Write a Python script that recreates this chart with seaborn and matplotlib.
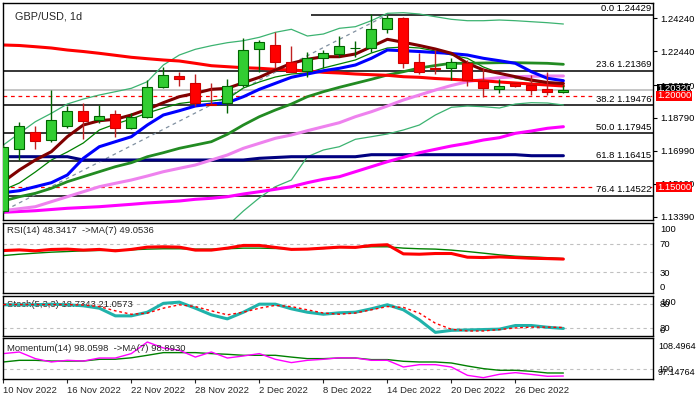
import numpy as np
import pandas as pd
import matplotlib
matplotlib.use("Agg")
import matplotlib.pyplot as plt
import matplotlib.transforms as mtransforms
import seaborn as sns

# ---------------- data ----------------
dates = pd.bdate_range("2022-11-10", "2022-12-29")
open_ = [1.1370, 1.1709, 1.1802, 1.1758, 1.1835, 1.1917, 1.1868, 1.1900, 1.1824, 1.1884,
         1.2048, 1.2108, 1.2070, 1.1958, 1.1961, 1.2059, 1.2256, 1.2278, 1.2185, 1.2136,
         1.2207, 1.2229, 1.2260, 1.2262, 1.2366, 1.2426, 1.2185, 1.2152, 1.2152, 1.2180,
         1.2081, 1.2037, 1.2070, 1.2059, 1.2037, 1.2021]
high = [1.1731, 1.1857, 1.1835, 1.2032, 1.1944, 1.1961, 1.1950, 1.1922, 1.1906, 1.2086,
        1.2158, 1.2130, 1.2119, 1.2070, 1.2092, 1.2316, 1.2305, 1.2349, 1.2272, 1.2240,
        1.2251, 1.2327, 1.2300, 1.2447, 1.2443, 1.2431, 1.2234, 1.2251, 1.2207, 1.2196,
        1.2152, 1.2092, 1.2075, 1.2114, 1.2130, 1.2059]
low = [1.1360, 1.1649, 1.1709, 1.1747, 1.1824, 1.1764, 1.1851, 1.1775, 1.1818, 1.1878,
       1.2045, 1.2054, 1.1944, 1.1948, 1.1906, 1.2048, 1.2130, 1.2152, 1.2128, 1.2103,
       1.2152, 1.2212, 1.2212, 1.2240, 1.2344, 1.2152, 1.2119, 1.2119, 1.2087, 1.2054,
       1.1994, 1.2015, 1.2048, 1.2005, 1.2005, 1.2015]
close = [1.1720, 1.1835, 1.1753, 1.1868, 1.1917, 1.1862, 1.1890, 1.1824, 1.1884, 1.2048,
         1.2114, 1.2092, 1.1961, 1.1950, 1.2054, 1.2251, 1.2294, 1.2185, 1.2130, 1.2207,
         1.2234, 1.2272, 1.2262, 1.2366, 1.2426, 1.2180, 1.2130, 1.2148, 1.2185, 1.2087,
         1.2043, 1.2054, 1.2054, 1.2032, 1.2021, 1.2032]

ma_red = [1.22780, 1.22753, 1.22687, 1.22616, 1.22506, 1.22424, 1.22326, 1.22217, 1.22107, 1.22031,
          1.21960, 1.21905, 1.21779, 1.21648, 1.21593, 1.21539, 1.21506, 1.21451, 1.21413, 1.21358,
          1.21287, 1.21249, 1.21194, 1.21156, 1.21123, 1.21046, 1.21014, 1.20948, 1.20904, 1.20855,
          1.20822, 1.20757, 1.20702, 1.20647, 1.20592, 1.20538]
ma_maroon = [1.15304, 1.15944, 1.16491, 1.16945, 1.17765, 1.18405, 1.18640, 1.18717, 1.18952, 1.19264,
             1.19625, 1.19953, 1.20139, 1.20357, 1.20412, 1.20718, 1.21014, 1.21413, 1.21779, 1.21998,
             1.22140, 1.22140, 1.22288, 1.22687, 1.23092, 1.22928, 1.22753, 1.22561, 1.22326, 1.21779,
             1.21413, 1.21232, 1.21046, 1.20866, 1.20729, 1.20675]
ma_blue = [1.14703, 1.14812, 1.15031, 1.15250, 1.15671, 1.16584, 1.17218, 1.17492, 1.17765, 1.18405,
           1.18952, 1.19187, 1.19444, 1.19553, 1.19625, 1.19953, 1.20357, 1.20685, 1.21014, 1.21194,
           1.21374, 1.21506, 1.21686, 1.22053, 1.22506, 1.22468, 1.22424, 1.22370, 1.22315, 1.22233,
           1.22053, 1.21921, 1.21779, 1.21320, 1.20959, 1.20828]
ma_thin_green = [1.14850, 1.15233, 1.15835, 1.16491, 1.16929, 1.17421, 1.18132, 1.18460, 1.18733, 1.19061,
                 1.19335, 1.19581, 1.19690, 1.19718, 1.19827, 1.20428, 1.20757, 1.21030, 1.21194, 1.21249,
                 1.21522, 1.21741, 1.21960, 1.22342, 1.22616, 1.22671, 1.22616, 1.22452, 1.22233, 1.22053,
                 1.21577, 1.21249, 1.20975, 1.20811, 1.20675, 1.20592]
bb_mid = [1.14249, 1.14484, 1.14670, 1.14943, 1.15304, 1.15578, 1.15851, 1.16125, 1.16343, 1.16671,
          1.16890, 1.17131, 1.17311, 1.17492, 1.17896, 1.18405, 1.18859, 1.19225, 1.19553, 1.19953,
          1.20226, 1.20467, 1.20685, 1.20904, 1.21139, 1.21320, 1.21522, 1.21659, 1.21779, 1.21779,
          1.21796, 1.21812, 1.21812, 1.21796, 1.21779, 1.21724]
bb_upper = [1.17311, 1.17951, 1.18585, 1.19045, 1.19553, 1.19827, 1.20046, 1.20226, 1.20412, 1.20773,
            1.21686, 1.22233, 1.22545, 1.22742, 1.22906, 1.23015, 1.23201, 1.23474, 1.23639, 1.23272,
            1.23381, 1.23693, 1.23781, 1.24109, 1.24513, 1.24546, 1.24475, 1.24327, 1.24185, 1.24109,
            1.24109, 1.24147, 1.24109, 1.24054, 1.24000, 1.23928]
bb_lower = [1.11187, 1.11017, 1.10755, 1.10841, 1.11055, 1.11329, 1.11656, 1.12024, 1.12274, 1.12569,
            1.12094, 1.12029, 1.12077, 1.12242, 1.12886, 1.13700, 1.14420, 1.15031, 1.15397, 1.16671,
            1.17038, 1.17218, 1.17623, 1.17765, 1.17913, 1.18132, 1.18405, 1.18952, 1.19373, 1.19444,
            1.19406, 1.19335, 1.19553, 1.19625, 1.19608, 1.19499]
ma_violet = [1.13718, 1.13828, 1.13937, 1.14211, 1.14484, 1.14757, 1.15031, 1.15217, 1.15397, 1.15616,
             1.15851, 1.16037, 1.16218, 1.16491, 1.16764, 1.17131, 1.17404, 1.17678, 1.17858, 1.18093,
             1.18312, 1.18531, 1.18859, 1.19132, 1.19444, 1.19772, 1.20046, 1.20319, 1.20565, 1.20773,
             1.20904, 1.20992, 1.21046, 1.21068, 1.21085, 1.21085]
ma_magenta = [1.13631, 1.13675, 1.13718, 1.13784, 1.13850, 1.13893, 1.13937, 1.14003, 1.14068, 1.14140,
              1.14194, 1.14249, 1.14342, 1.14397, 1.14484, 1.14632, 1.14757, 1.14889, 1.15031, 1.15250,
              1.15436, 1.15578, 1.15851, 1.16125, 1.16398, 1.16639, 1.16890, 1.17076, 1.17257, 1.17404,
              1.17585, 1.17711, 1.17951, 1.18077, 1.18225, 1.18312]
ma_navy = [1.16671, 1.16671, 1.16671, 1.16671, 1.16671, 1.16491, 1.16491, 1.16491, 1.16491, 1.16491,
           1.16491, 1.16491, 1.16491, 1.16491, 1.16491, 1.16491, 1.16584, 1.16628, 1.16671, 1.16671,
           1.16671, 1.16671, 1.16671, 1.16781, 1.16781, 1.16781, 1.16781, 1.16781, 1.16781, 1.16781,
           1.16781, 1.16781, 1.16781, 1.16726, 1.16726, 1.16726]

rsi = [60.4, 61.3, 60.0, 61.9, 62.4, 61.0, 62.0, 60.0, 62.0, 65.2, 65.7, 65.2, 61.0, 61.0, 63.8,
       67.6, 67.6, 64.8, 62.0, 62.4, 63.8, 65.2, 64.8, 67.6, 68.6, 55.7, 55.2, 56.2, 56.2, 51.0,
       50.5, 51.4, 50.5, 49.5, 49.0, 48.34]
rsi_ma = [53.3, 55.2, 56.7, 58.1, 59.0, 60.0, 60.5, 61.0, 61.4, 62.4, 62.9, 62.9, 62.4, 62.4, 62.9,
          63.8, 63.8, 63.3, 62.9, 62.9, 63.3, 64.8, 64.8, 65.7, 65.7, 63.8, 62.9, 62.4, 61.0, 59.0,
          56.7, 54.3, 52.4, 51.4, 50.3, 49.05]
stoch_k = [77.5, 77.5, 77.5, 79.0, 77.5, 75.0, 69.0, 50.0, 50.0, 59.0, 81.0, 84.0, 69.0, 52.5, 42.5,
           59.0, 79.0, 79.0, 67.5, 59.0, 54.0, 57.5, 59.0, 67.5, 77.5, 65.0, 40.0, 9.0, 14.0, 15.0,
           16.0, 17.0, 26.0, 26.0, 21.7, 18.73]
stoch_d = [78.0, 78.0, 78.0, 78.0, 78.0, 77.0, 73.0, 62.5, 54.0, 56.7, 69.0, 77.5, 73.0, 62.5, 52.5,
           59.0, 69.0, 76.0, 73.0, 65.0, 57.0, 54.0, 57.0, 65.0, 73.0, 71.0, 56.7, 31.7, 16.7, 12.5,
           12.5, 16.0, 20.0, 22.0, 22.0, 21.06]
momentum = [104.26, 104.70, 102.87, 101.94, 102.41, 102.20, 103.04, 103.04, 104.26, 107.47,
            105.82, 105.18, 103.30, 104.70, 103.04, 103.60, 104.26, 102.68, 101.77, 102.40,
            102.68, 103.10, 103.04, 102.40, 102.40, 100.55, 101.20, 101.20, 100.55, 98.25,
            97.60, 98.53, 98.99, 98.50, 97.98, 98.06]
momentum_ma = [101.94, 102.40, 102.40, 102.20, 102.20, 102.20, 102.68, 102.70, 103.10, 103.79,
               104.53, 104.53, 104.53, 104.26, 104.07, 103.79, 103.79, 103.79, 103.30, 102.87,
               102.87, 103.04, 103.04, 102.60, 102.60, 102.13, 101.94, 101.94, 101.66, 100.83,
               100.10, 99.64, 99.64, 99.36, 98.90, 98.89]

fib_levels = ["0.0", "23.6", "38.2", "50.0", "61.8", "76.4"]
fib_prices = [1.24429, 1.21369, 1.19476, 1.17945, 1.16415, 1.14522]
fib_top_start = 19.2
trend_x = [-5, 24]
trend_y = [1.11463, 1.24429]
alert_levels = [1.20000, 1.15000]
bid_price = 1.20320
price_ticks = [1.24240, 1.22440, 1.20590, 1.18790, 1.16990, 1.15190, 1.13390]

title = "GBP/USD, 1d"
rsi_text = "RSI(14) 48.3417  ->MA(7) 49.0536"
stoch_text = "Stoch(5,3,3) 18.7343 21.0573"
mom_text = "Momentum(14) 98.0598  ->MA(7) 98.8930"

# ---------------- style ----------------
sns.set_style("white")
plt.rcParams["font.family"] = ["Liberation Sans", "DejaVu Sans"]
FS = 6.8

n = len(close)
idx = np.arange(n)

W, H = 698, 397
fig = plt.figure(figsize=(W / 100, H / 100), dpi=100)


def rect(x0, y0, x1, y1):
    return [x0 / W, 1 - y1 / H, (x1 - x0) / W, (y1 - y0) / H]


ax = fig.add_axes(rect(3, 3, 653, 220))
ax_rsi = fig.add_axes(rect(3, 222.5, 653, 293.3), sharex=ax)
ax_sto = fig.add_axes(rect(3, 295.7, 653, 336), sharex=ax)
ax_mom = fig.add_axes(rect(3, 338.3, 653, 379.3), sharex=ax)


def line(a, y, color, lw, ls="-", z=2, x=None):
    sns.lineplot(x=idx if x is None else x, y=y, ax=a, color=color, linewidth=lw,
                 linestyle=ls, legend=False, zorder=z, estimator=None, sort=False)


# ---------------- main panel ----------------
for p in fib_prices[1:]:
    ax.axhline(p, color="black", lw=1.1, zorder=1)
ax.hlines(fib_prices[0], fib_top_start, 41, color="black", lw=1.1, zorder=1)
for p in alert_levels:
    ax.axhline(p, color="#FF0000", lw=0.9, ls=(0, (3, 3)), zorder=1)
ax.axhline(bid_price, color="#C0C0C0", lw=1.3, zorder=1)

line(ax, trend_y, "#8090A0", 0.9, ls=(0, (3, 3)), x=trend_x)
line(ax, bb_upper, "#3CB371", 0.9)
line(ax, bb_lower, "#3CB371", 0.9)
line(ax, ma_thin_green, "#008000", 0.9)
line(ax, ma_navy, "#000080", 2.2)
line(ax, ma_magenta, "#FF00FF", 2.2)
line(ax, ma_violet, "#EE82EE", 2.2)
line(ax, bb_mid, "#228B22", 2.0)
line(ax, ma_red, "#FF0000", 2.2)
line(ax, ma_blue, "#0000FF", 2.2)
line(ax, ma_maroon, "#800000", 2.2)

o = np.array(open_); c = np.array(close)
up = c >= o
body_bottom = np.minimum(o, c)
body_h = np.abs(c - o)
wick_col = np.where(up, "#006400", "#C02020")
fill_col = np.where(up, "#32CD32", "#FF0000")
edge_col = np.where(up, "#006400", "#D00000")
ax.vlines(idx, low, high, colors=wick_col, lw=1.0, zorder=5)
ax.bar(idx, body_h, bottom=body_bottom, width=0.62, color=fill_col,
       edgecolor=edge_col, linewidth=0.8, zorder=6)

ax.set_xlim(-0.02, 40.6)
ax.set_ylim(1.1321, 1.25077)

trans = mtransforms.blended_transform_factory(ax.transAxes, ax.transData)
for lvl, p in zip(fib_levels, fib_prices):
    ax.text(0.997, p + 0.0009, f"{lvl} {p:.5f}", transform=trans, ha="right", va="bottom",
            fontsize=FS, color="black", zorder=8,
            bbox=dict(facecolor="white", edgecolor="none", pad=0.3))

ax.text(0.0185, 0.94, title, transform=ax.transAxes, fontsize=7.8, va="center", ha="left")

ax.yaxis.tick_right()
ax.set_yticks(price_ticks)
ax.set_yticklabels([f"{t:.5f}" for t in price_ticks])
ax.tick_params(axis="y", length=3, width=0.8, pad=2.5, labelsize=FS, colors="black")
ax.text(1.0062, bid_price + 0.0006, f"{bid_price:.5f}", transform=trans, ha="left", va="center",
        fontsize=FS, color="white", clip_on=False, zorder=9,
        bbox=dict(facecolor="black", edgecolor="none", pad=0.0))
for p in alert_levels:
    ax.text(1.0062, p, f"{p:.5f}", transform=trans, ha="left", va="center",
            fontsize=FS, color="white", clip_on=False, zorder=10,
            bbox=dict(facecolor="#FF0000", edgecolor="none", pad=0.4))

# ---------------- RSI ----------------
ax_rsi.set_ylim(0, 100)
for lv in (70, 30):
    ax_rsi.axhline(lv, color="#C0C0C0", lw=0.8, ls=(0, (3, 3)), zorder=1)
line(ax_rsi, rsi_ma, "#008000", 1.0)
line(ax_rsi, rsi, "#FF0000", 2.2)
ax_rsi.text(0.006, 0.88, rsi_text, transform=ax_rsi.transAxes, fontsize=FS, va="center")
ax_rsi.yaxis.tick_right()
ax_rsi.set_yticks([92.2, 70, 30, 8.9])
ax_rsi.set_yticklabels(["100", "70", "30", "0"])

# ---------------- Stochastic ----------------
ax_sto.set_ylim(0, 100)
for lv in (80, 20):
    ax_sto.axhline(lv, color="#C0C0C0", lw=0.8, ls=(0, (3, 3)), zorder=1)
ax_sto.text(0.006, 0.77, stoch_text, transform=ax_sto.transAxes, fontsize=FS, va="center", zorder=1)
line(ax_sto, stoch_d, "#FF0000", 1.0, ls=(0, (2, 2)), z=3)
line(ax_sto, stoch_k, "#20B2AA", 2.2, z=2)
ax_sto.yaxis.tick_right()
ax_sto.set_yticks([85, 80, 20, 17])
ax_sto.set_yticklabels(["100", "80", "20", "0"])

# ---------------- Momentum ----------------
ax_mom.set_ylim(97.14764, 108.4964)
ax_mom.axhline(100, color="#C0C0C0", lw=0.8, ls=(0, (3, 3)), zorder=1)
line(ax_mom, momentum_ma, "#008000", 1.0)
line(ax_mom, momentum, "#FF00FF", 1.0)
ax_mom.text(0.006, 0.76, mom_text, transform=ax_mom.transAxes, fontsize=FS, va="center")
ax_mom.yaxis.tick_right()
ax_mom.set_yticks([106.6, 100.0, 99.3])
ax_mom.set_yticklabels(["108.4964", "100", "97.14764"])

for a in (ax_rsi, ax_sto):
    a.tick_params(axis="y", length=0, pad=5, labelsize=FS, colors="black")
ax_mom.tick_params(axis="y", length=0, pad=3.5, labelsize=6.5, colors="black")

# ---------------- x axis ----------------
tick_idx = list(range(0, n, 4))
tick_labels = [f"{dates[i].day} {dates[i].strftime('%b %Y')}" for i in tick_idx]
ax_mom.set_xticks(tick_idx)
ax_mom.set_xticklabels(tick_labels, ha="left")
ax_mom.tick_params(axis="x", length=3, width=0.8, pad=1.5, labelsize=FS, bottom=True)
for a in (ax, ax_rsi, ax_sto):
    a.tick_params(axis="x", bottom=False, labelbottom=False)

for a in (ax, ax_rsi, ax_sto, ax_mom):
    a.set_xlabel("")
    a.set_ylabel("")
    for s in a.spines.values():
        s.set_color("black")
        s.set_linewidth(1.0)
    a.set_facecolor("white")

fig.savefig("out.png", dpi=100, facecolor="white")
